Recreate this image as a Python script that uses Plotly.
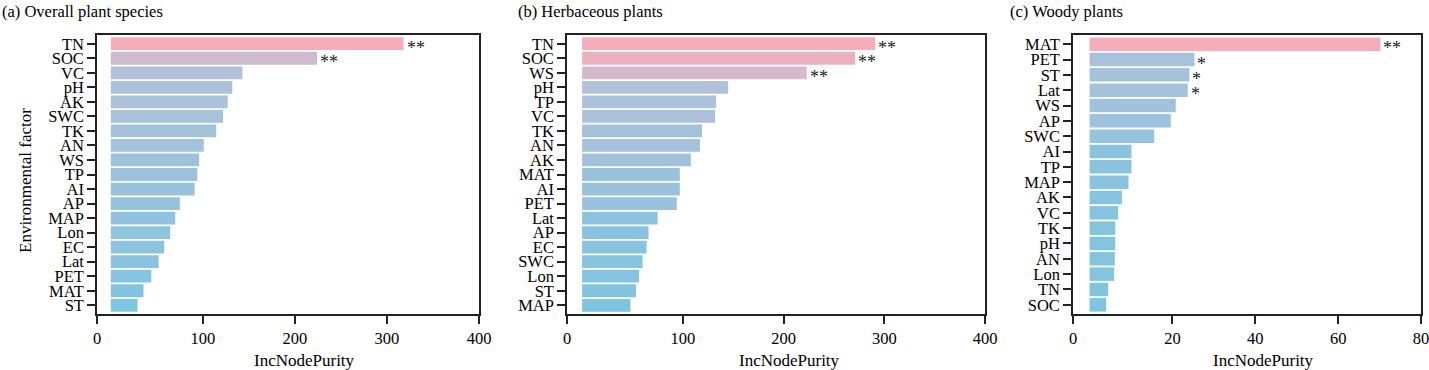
import plotly.graph_objects as go

# ---------------- data ----------------
labels_a = ["TN", "SOC", "VC", "pH", "AK", "SWC", "TK", "AN", "WS", "TP",
            "AI", "AP", "MAP", "Lon", "EC", "Lat", "PET", "MAT", "ST"]
values_a = [318, 224, 143, 132, 127, 122, 114.5, 101, 96, 94,
            91, 75, 70, 64.5, 58, 52, 44, 35.5, 29]
sig_a = ["**", "**"] + [""] * 17

labels_b = ["TN", "SOC", "WS", "pH", "TP", "VC", "TK", "AN", "AK", "MAT",
            "AI", "PET", "Lat", "AP", "EC", "SWC", "Lon", "ST", "MAP"]
values_b = [291, 271, 223, 145, 133, 132, 119, 117, 108, 97,
            97, 94, 75, 66, 64, 60, 56.5, 53.5, 48]
sig_b = ["**", "**", "**"] + [""] * 16

labels_c = ["MAT", "PET", "ST", "Lat", "WS", "AP", "SWC", "AI", "TP", "MAP",
            "AK", "VC", "TK", "pH", "AN", "Lon", "TN", "SOC"]
values_c = [70.2, 25.3, 24.1, 23.7, 20.8, 19.6, 15.6, 10.1, 10.1, 9.4,
            7.8, 6.9, 6.2, 6.2, 6.1, 5.9, 4.5, 4.0]
sig_c = ["**", "*", "*", "*"] + [""] * 14

titles = ["(a) Overall plant species", "(b) Herbaceous plants", "(c) Woody plants"]
xtick_a = [0, 100, 200, 300, 400]
xtick_c = [0, 20, 40, 60, 80]

# ---------------- styling ----------------
W, H = 1429, 370
FONT = "Liberation Serif"
colorscale = [[0.0, "#7FC4E0"], [0.25, "#A0C2DC"], [0.5, "#BBC1D7"],
              [0.75, "#D9B8CA"], [1.0, "#F4AEBB"]]

panels = [
    dict(labels=labels_a, values=values_a, sig=sig_a, ticks=xtick_a,
         xpx=(97, 479), xmin=-15, xmax=400, title_x=0, xt_center=304),
    dict(labels=labels_b, values=values_b, sig=sig_b, ticks=xtick_a,
         xpx=(567, 985), xmin=-15, xmax=400, title_x=516, xt_center=789),
    dict(labels=labels_c, values=values_c, sig=sig_c, ticks=xtick_c,
         xpx=(1073, 1421), xmin=-4, xmax=80, title_x=1008, xt_center=1263),
]

top_px, bot_px = 35, 314
ydom = [1 - bot_px / H, 1 - top_px / H]

fig = go.Figure()
annotations = []
for i, p in enumerate(panels):
    sfx = "" if i == 0 else str(i + 1)
    xa, ya = "x" + sfx, "y" + sfx
    n = len(p["labels"])
    fig.add_trace(go.Bar(
        x=p["values"], y=p["labels"], orientation="h",
        marker=dict(color=p["values"], colorscale=colorscale,
                    cmin=min(p["values"]), cmax=max(p["values"]),
                    line=dict(width=0)),
        xaxis=xa, yaxis=ya, showlegend=False, hoverinfo="x+y",
    ))
    # significance asterisks
    for lab, v, s in zip(p["labels"], p["values"], p["sig"]):
        if s:
            annotations.append(dict(
                x=v, y=lab, xref=xa, yref=ya, text=s, showarrow=False,
                xanchor="left", yanchor="middle", xshift=1, yshift=-4,
                font=dict(family=FONT, size=18, color="#1a1a1a")))
    # tick values: the first label "0" sits at the left frame edge
    tv = [p["xmin"]] + p["ticks"][1:]
    tt = [str(t) for t in p["ticks"]]
    axis_common = dict(showline=True, linecolor="#222", linewidth=1.6,
                       mirror=True, ticks="outside", ticklen=8, tickwidth=1.6,
                       tickcolor="#222", showgrid=False, zeroline=False,
                       tickfont=dict(family=FONT, size=16.5, color="black"),
                       automargin=False)
    fig.update_layout({
        "xaxis" + sfx: dict(domain=[p["xpx"][0] / W, p["xpx"][1] / W],
                            range=[p["xmin"], p["xmax"]], anchor=ya,
                            tickmode="array", tickvals=tv, ticktext=tt,
                            ticklabeloverflow="allow",
                            **axis_common),
        "yaxis" + sfx: dict(domain=ydom, anchor=xa, type="category",
                            categoryorder="array", categoryarray=p["labels"],
                            tickmode="array", tickvals=p["labels"],
                            ticktext=p["labels"],
                            range=[n - 1 + 0.6, -0.6], ticklabelstandoff=0,
                            **axis_common),
    })
    # panel title
    annotations.append(dict(
        x=p["title_x"] / W, y=1 - 11 / H, xref="paper", yref="paper",
        text=titles[i], showarrow=False, xanchor="left", yanchor="middle",
        font=dict(family=FONT, size=16.5, color="black")))
    # x axis title
    annotations.append(dict(
        x=p["xt_center"] / W, y=1 - 360 / H, xref="paper", yref="paper",
        text="IncNodePurity", showarrow=False, xanchor="center", yanchor="middle",
        font=dict(family=FONT, size=17, color="black")))

annotations.append(dict(
    x=25 / W, y=1 - 181 / H, xref="paper", yref="paper",
    text="Environmental factor", showarrow=False, textangle=-90,
    xanchor="center", yanchor="middle",
    font=dict(family=FONT, size=17, color="black")))

fig.update_layout(
    width=W, height=H, margin=dict(l=0, r=0, t=0, b=0),
    paper_bgcolor="white", plot_bgcolor="white",
    bargap=0.12, annotations=annotations,
    font=dict(family=FONT, color="black"),
)

fig.write_html("out.html", config={"displayModeBar": False},
               post_script="document.body.style.margin='0';"
                           "document.body.style.overflow='hidden';")
